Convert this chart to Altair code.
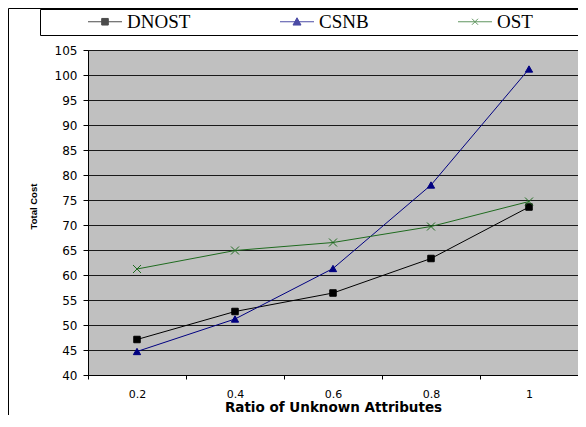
import altair as alt
import pandas as pd

ratios = ["0.2", "0.4", "0.6", "0.8", "1"]
series_names = ["DNOST", "CSNB", "OST"]
dnost = [47.1, 52.7, 56.4, 63.3, 73.6]
csnb = [44.7, 51.2, 61.3, 78.0, 101.2]
ost = [61.2, 64.9, 66.5, 69.7, 74.7]
y_ticks = list(range(40, 110, 5))

colors = ["#000000", "#000080", "#1f6b1f"]
plot_shapes = ["square", "triangle-up", "M-1,-1L1,1M-1,1L1,-1"]
plot_sizes = [42, 64, 45]
# legend symbols: a line with the marker in its middle (unit = 5px);
# the trailing move-to point only widens the legend box
legend_shapes = [
    "M-3.4,0H3.4M-0.66,-0.66H0.66V0.66H-0.66Z",
    "M-3.4,0H3.4M0,-0.8L0.8,0.66L-0.8,0.66Z",
    "M-3.4,0H3.4M-0.6,-0.6L0.6,0.6M-0.6,0.6L0.6,-0.6M20.5,0",
]

rows = []
for name, vals in zip(series_names, [dnost, csnb, ost]):
    for r, v in zip(ratios, vals):
        rows.append({"ratio": r, "value": v, "series": name, "entry": name})
df = pd.DataFrame(rows)

x_enc = alt.X(
    "ratio:N",
    sort=ratios,
    scale=alt.Scale(type="band", paddingInner=0, paddingOuter=0),
    axis=alt.Axis(
        title="Ratio of Unknown Attributes",
        labelAngle=0,
        tickBand="extent",
        grid=False,
        tickSize=4,
        labelPadding=9,
        labelFont="DejaVu Sans",
        labelFontSize=11,
        titleFont="DejaVu Sans",
        titleFontSize=13.5,
        titleFontWeight="bold",
        titleBaseline="top",
        titleY=25.5,
    ),
)
y_enc = alt.Y(
    "value:Q",
    scale=alt.Scale(domain=[40, 105], nice=False, zero=False),
    axis=alt.Axis(
        values=y_ticks,
        grid=True,
        gridColor="#1a1a1a",
        gridWidth=1,
        tickSize=5,
        labelPadding=6,
        labelFont="DejaVu Sans",
        labelFontSize=12,
        title="Total Cost",
        titleFont="Liberation Sans",
        titleFontSize=9.5,
        titleFontWeight="bold",
        titleAngle=-90,
        titleBaseline="middle",
        titleAlign="center",
        titleX=-55,
        titleY=156,
    ),
)

base = alt.Chart(df)

lines = base.mark_line(strokeWidth=1).encode(
    x=x_enc,
    y=y_enc,
    color=alt.Color("series:N", scale=alt.Scale(domain=series_names, range=colors), legend=None),
)

points = base.mark_point(filled=True, strokeWidth=1, opacity=1).encode(
    x=x_enc,
    y=y_enc,
    color=alt.Color("series:N", scale=alt.Scale(domain=series_names, range=colors), legend=None),
    stroke=alt.Stroke("series:N", scale=alt.Scale(domain=series_names, range=colors), legend=None),
    shape=alt.Shape("series:N", scale=alt.Scale(domain=series_names, range=plot_shapes), legend=None),
    size=alt.Size("series:N", scale=alt.Scale(domain=series_names, range=plot_sizes), legend=None),
)

leg = alt.Legend(
    orient="none",
    legendX=-48,
    legendY=-41,
    direction="horizontal",
    columns=3,
    title=None,
    labelFont="Liberation Serif",
    labelFontSize=19,
    labelColor="#000000",
    symbolOffset=52.5,
    labelOffset=12.5,
    labelLimit=300,
    columnPadding=44,
    padding=3,
    strokeColor="#000000",
    fillColor="#ffffff",
    symbolSize=100,
    symbolStrokeWidth=1,
)

legend_layer = base.transform_filter("datum.value < -1000").mark_point(filled=True, strokeWidth=1).encode(
    x=x_enc,
    y=y_enc,
    color=alt.Color("entry:N", scale=alt.Scale(domain=series_names, range=colors), legend=leg),
    stroke=alt.Stroke("entry:N", scale=alt.Scale(domain=series_names, range=colors), legend=leg),
    shape=alt.Shape("entry:N", scale=alt.Scale(domain=series_names, range=legend_shapes), legend=leg),
)

frame = alt.Chart(pd.DataFrame({"k": [0]})).mark_rect(
    fill="transparent", stroke="#000000", strokeWidth=1, clip=False
).encode(
    x=alt.value(-79.5),
    x2=alt.value(700),
    y=alt.value(-41.5),
    y2=alt.value(700),
)

chart = (
    alt.layer(frame, lines, points, legend_layer)
    .resolve_scale(color="independent", shape="independent", stroke="independent", size="independent")
    .properties(
        width=490,
        height=325,
        padding={"left": 80, "top": 42, "right": 0, "bottom": 40},
        autosize=alt.AutoSizeParams(type="none"),
        background="#ffffff",
    )
    .configure_view(fill="#c0c0c0", stroke="#808080", strokeWidth=1)
    .configure_axis(domainColor="#000000", tickColor="#000000", labelColor="#000000", titleColor="#000000")
)

chart.save("out.html", embed_options={"renderer": "svg", "actions": False})
